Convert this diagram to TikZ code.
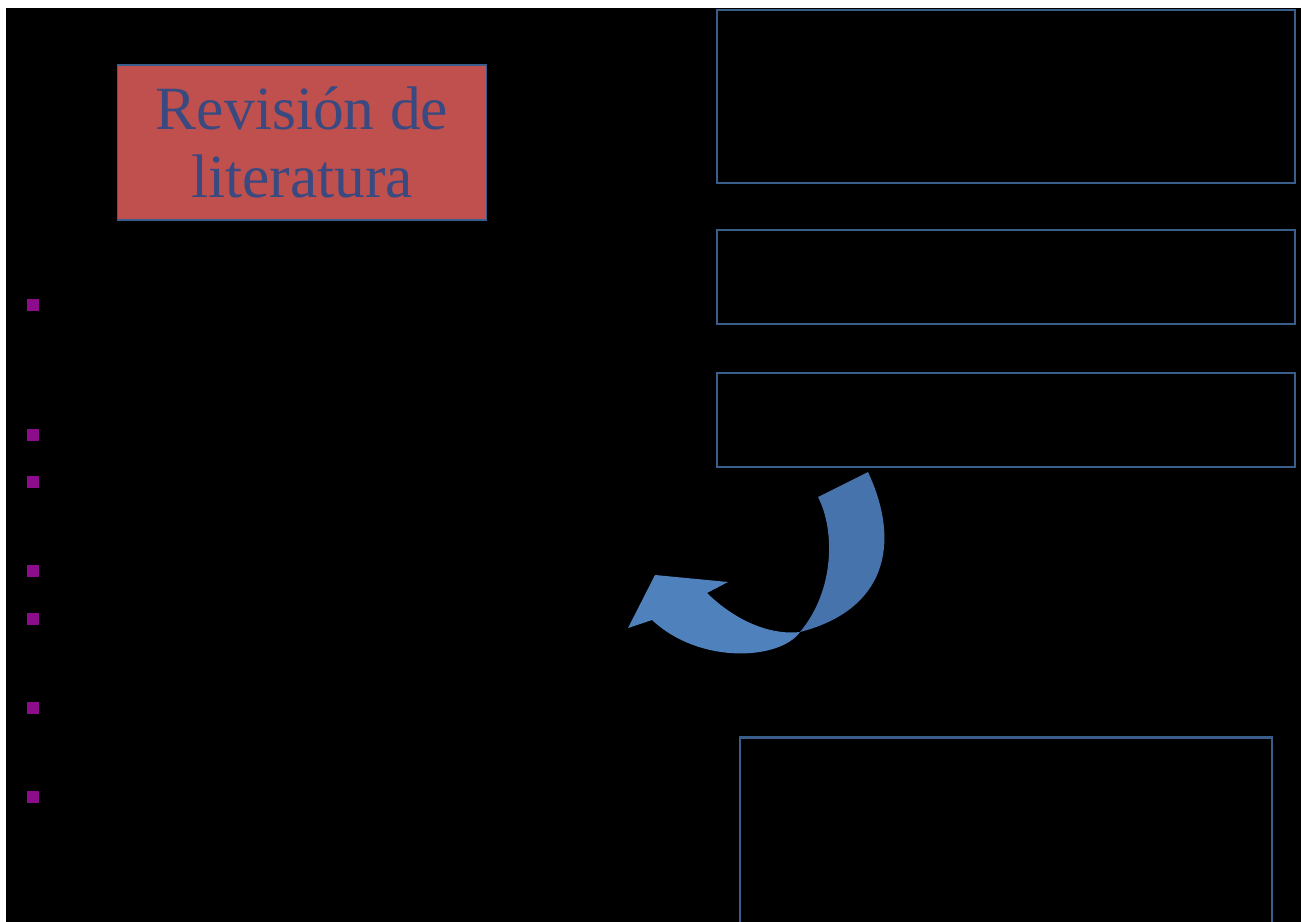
\documentclass[tikz,border=0pt]{standalone}
\usepackage{fontspec}
\setmainfont{Liberation Serif}
\definecolor{boxblue}{RGB}{58,94,140}
\definecolor{arrowblue}{RGB}{79,129,189}
\definecolor{arrowdark}{RGB}{70,115,172}
\definecolor{titlered}{RGB}{192,80,77}
\definecolor{titletext}{RGB}{58,74,128}
\definecolor{bulletpurple}{RGB}{140,12,140}

\begin{document}
\begin{tikzpicture}[x=0.02cm, y=-0.02cm,
	stagebox/.style={draw=boxblue, line width=1.2pt, inner sep=0pt},
	titlebox/.style={draw=boxblue, line width=0.6pt, fill=titlered, text=titletext,
		minimum width=7.4cm, minimum height=3.1cm, align=center, inner sep=0pt,
		font=\fontsize{35}{39}\selectfont},
	bulletsq/.style={fill=bulletpurple, minimum size=0.24cm, inner sep=0pt}]
	\useasboundingbox (0,0) rectangle (1301,922);
	
	% page background
	\fill[white] (0,0) rectangle (1301,922);
	\fill[black] (6,8) rectangle (1301,922);
	
	% title box
	\node [titlebox] (titulo) at (302,142.5) {Revisión de\\literatura};
	
	% empty boxes on the right
	\node [stagebox, minimum width=11.56cm, minimum height=3.46cm] (caja1) at (1006,96.5) {};
	\node [stagebox, minimum width=11.56cm, minimum height=1.88cm] (caja2) at (1006,277) {};
	\node [stagebox, minimum width=11.56cm, minimum height=1.88cm] (caja3) at (1006,420) {};
	\node [stagebox, minimum width=10.64cm, minimum height=4.1cm] (caja4) at (1006,840) {};
	
	% bullets on the left
	\foreach \y [count=\i] in {305,435,482,571,619,708,797}
		\node [bulletsq] (punto\i) at (33,\y) {};
	
	% curved arrow, upper part
	\fill[arrowdark] (868,472) .. controls (902,545) and (885,610) .. (800,632)
		.. controls (835,590) and (835,530) .. (818,497) -- cycle;
	% curved arrow, lower part with head
	\fill[arrowblue] (800,632) .. controls (780,660) and (700,665) .. (652,620)
		-- (628,628) -- (655,575) -- (728,582) -- (707,593)
		.. controls (740,625) and (775,635) .. (800,632) -- cycle;
\end{tikzpicture}
\end{document}
